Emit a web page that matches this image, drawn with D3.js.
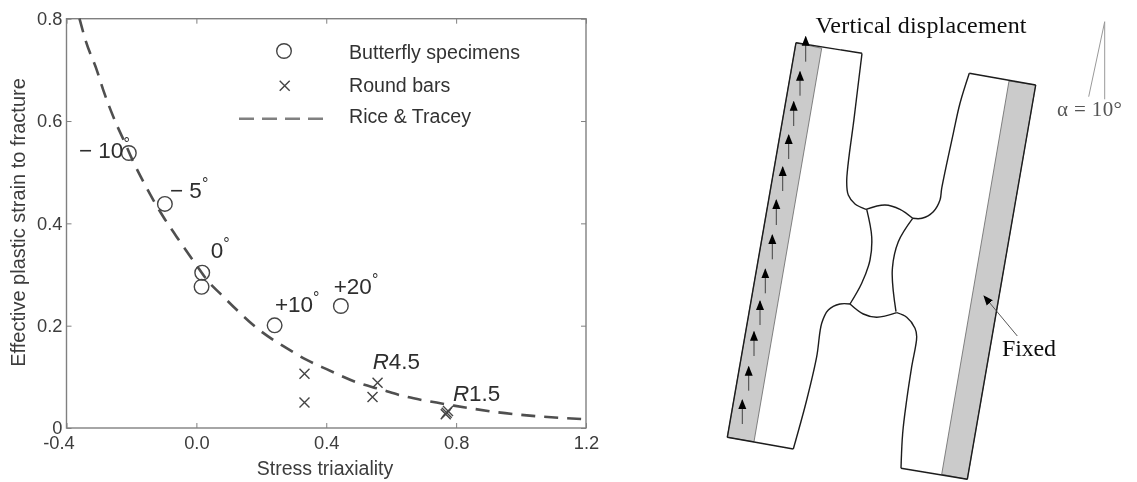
<!DOCTYPE html>
<html><head><meta charset="utf-8">
<script src="https://cdn.jsdelivr.net/npm/d3@7/dist/d3.min.js"></script>
<style>html,body{margin:0;padding:0;background:#fff}svg{display:block}
text{font-family:"Liberation Sans",Arial,sans-serif}
.serif{font-family:"Liberation Serif",serif}</style></head>
<body><svg id="c" width="1137" height="482"></svg>
<script>
// ---- chart data (stress triaxiality, effective plastic strain to fracture)
const butterflyX = [-0.208,-0.097,0.018,0.016,0.241,0.445];
const butterflyY = [0.5375,0.438,0.3035,0.276,0.2007,0.2385];
const roundX = [0.333,0.333,0.558,0.5425,0.771,0.768,0.775];
const roundY = [0.106,0.05,0.0885,0.0606,0.03,0.027,0.033];
const curveX = [-0.36,-0.34,-0.307,-0.287,-0.245,-0.224,-0.194,-0.163,-0.133,-0.102,-0.061,-0.004,0.037,0.073,0.124,0.191,0.278,0.34,0.401,0.504,0.565,0.637,0.709,0.791,0.925,1.068,1.2];
const curveY = [0.8,0.755,0.7,0.661,0.592,0.563,0.52,0.481,0.446,0.413,0.374,0.322,0.286,0.263,0.231,0.193,0.156,0.133,0.115,0.087,0.076,0.0625,0.053,0.044,0.031,0.022,0.017];
const xTicks = [-0.4,0,0.4,0.8,1.2];
const xTickLabels = ["-0.4","0.0","0.4","0.8","1.2"];
const yTicks = [0,0.2,0.4,0.6,0.8];
const yTickLabels = ["0","0.2","0.4","0.6","0.8"];
const legendLabels = ["Butterfly specimens","Round bars","Rice & Tracey"];
const noteText = ["\u2212 10","\u2212 5","0","+10","+20"];
const noteX = [-0.3616,-0.0813,0.044,0.242,0.423];
const noteY = [0.5278,0.4496,0.3323,0.2273,0.2619];
const radiusNotes = ["4.5","1.5"];
const radiusX = [0.543,0.79];
const radiusY = [0.1153,0.0534];

// ---- schematic data (specimen drawing units)
const gripLeft = [[96,42.7],[121.7,48.3],[54,441.7],[27.3,437.3]];
const gripRight = [[309,81],[335.7,85],[267.3,479.3],[241.7,474.3]];
const edges = [
 [[96,42.7],[27.3,437.3]],
 [[96,42.7],[162,53.3]],
 [[162,53.3],[154.3,116.7],[146.7,181.7],[148.3,195],[155,204],[166,209.3]],
 [[166,209.3],[185,205],[200,209.3],[212.7,218.3]],
 [[212.7,218.3],[222,218.3],[233.3,211.7],[240,200],[241.7,188.3],[253.3,133.3],[260,103.3],[269.3,73.3]],
 [[269.3,73.3],[335.7,85]],
 [[335.7,85],[267.3,479.3]],
 [[267.3,479.3],[201,468.3]],
 [[201,468.3],[202.7,433],[206.7,400],[211.7,366.7],[216.7,336.7],[215,328.3],[206.7,317.3],[196.7,312.7]],
 [[196.7,312.7],[176.7,317.3],[163.3,314],[150,304]],
 [[150,304],[140,304],[128.3,310],[121.7,323.3],[116.7,356.7],[106.7,400],[93.3,449]],
 [[93.3,449],[27.3,437.3]],
 [[166.7,209.3],[171.7,236.7],[170,260],[161.7,283.3],[150,304]],
 [[212.7,218.3],[198.3,241.7],[192.3,270],[196,311.7]]
];
const arrowX = [105.7,100,93.7,88.7,82.7,76.3,72.3,65.3,60,54,48.7,42.3];
const arrowTip = [36.7,71.7,101.7,135,167,200,235,269.3,301,331.7,366.7,400];
const arrowTail = [61.7,95.7,126,159,191,225,259.3,293.3,325,356,390.7,424];
const fixedArrow = [[317.3,336],[284,296]];
const angleLines = [[[404.7,21.7],[404.7,99.3]],[[404.7,21.7],[388.7,96.7]]];

const svg = d3.select("#c");
const defs = svg.append("defs");
defs.append("filter").attr("id","soft").attr("x","-5%").attr("y","-5%").attr("width","110%").attr("height","110%")
  .append("feGaussianBlur").attr("stdDeviation",0.35);
defs.append("marker").attr("id","tip").attr("viewBox","0 0 10 10").attr("refX",9).attr("refY",5)
  .attr("markerUnits","userSpaceOnUse").attr("markerWidth",10).attr("markerHeight",10).attr("orient","auto")
  .append("path").attr("d","M0,1 L10,5 L0,9 Z").attr("fill","#000");

const root = svg.append("g").attr("filter","url(#soft)");
const ink="#444", frame="#808080";
const x = d3.scaleLinear().domain([-0.4,1.2]).range([66.5,586]);
const y = d3.scaleLinear().domain([0,0.8]).range([428,18.7]);
const plot = root.append("g");

// frame and ticks
plot.append("rect").attr("x",66.5).attr("y",18.7).attr("width",519.5).attr("height",409.3)
  .attr("fill","none").attr("stroke",frame).attr("stroke-width",1.4);
function styleAxis(g){
  g.select(".domain").remove();
  g.selectAll("line").attr("stroke",frame).attr("stroke-width",1);
  g.selectAll("text").attr("fill","#3c3c3c").attr("font-size",18.3).attr("font-family","'Liberation Sans',Arial,sans-serif");
}
const fmtX=(d,i)=>xTickLabels[i], fmtY=(d,i)=>yTickLabels[i];
plot.append("g").attr("transform","translate(0,428)")
  .call(d3.axisBottom(x).tickValues(xTicks).tickSize(-5).tickPadding(8).tickFormat(fmtX)).call(styleAxis)
  .selectAll("text").attr("dx",(d,i)=>i==0?-8:0);
plot.append("g").attr("transform","translate(0,18.7)")
  .call(d3.axisTop(x).tickValues(xTicks).tickSize(-5).tickFormat("")).call(styleAxis);
plot.append("g").attr("transform","translate(66.5,0)")
  .call(d3.axisLeft(y).tickValues(yTicks).tickSize(-5).tickPadding(4).tickFormat(fmtY)).call(styleAxis);
plot.append("g").attr("transform","translate(586,0)")
  .call(d3.axisRight(y).tickValues(yTicks).tickSize(-5).tickFormat("")).call(styleAxis);

plot.append("text").attr("x",325).attr("y",475).attr("text-anchor","middle").attr("font-size",19.5).attr("fill","#3c3c3c").text("Stress triaxiality");
plot.append("text").attr("transform","translate(25,222.5) rotate(-90)").attr("text-anchor","middle").attr("font-size",20).attr("fill","#3c3c3c").text("Effective plastic strain to fracture");

// fitted curve
const pts = curveX.map((d,i)=>[d,curveY[i]]);
const line = d3.line().x(d=>x(d[0])).y(d=>y(d[1])).curve(d3.curveMonotoneX);
plot.append("path").attr("d",line(pts)).attr("fill","none").attr("stroke","#4f4f4f").attr("stroke-width",2.6).attr("stroke-dasharray","14,9");

// markers
plot.selectAll("circle.b").data(butterflyX).join("circle").attr("class","b")
  .attr("cx",d=>x(d)).attr("cy",(d,i)=>y(butterflyY[i])).attr("r",7.3).attr("fill","none").attr("stroke",ink).attr("stroke-width",1.4);
const crossPath = "M-5,-5L5,5M-5,5L5,-5";
plot.selectAll("path.r").data(roundX).join("path").attr("class","r").attr("d",crossPath)
  .attr("transform",(d,i)=>`translate(${x(d)},${y(roundY[i])})`).attr("fill","none").attr("stroke",ink).attr("stroke-width",1.4);

// legend
plot.append("circle").attr("cx",284).attr("cy",51).attr("r",7.3).attr("fill","none").attr("stroke",ink).attr("stroke-width",1.4);
plot.append("path").attr("d",crossPath).attr("transform","translate(284.7,85.7)").attr("fill","none").attr("stroke",ink).attr("stroke-width",1.4);
plot.append("line").attr("x1",239).attr("x2",323).attr("y1",118.7).attr("y2",118.7).attr("stroke","#808080").attr("stroke-width",2.6).attr("stroke-dasharray","15,8");
[59,92,122.7].forEach((b,i)=>plot.append("text").attr("x",349).attr("y",b).attr("font-size",19.6).attr("fill","#333").text(legendLabels[i]));

// annotations
noteText.forEach((t,i)=>{
  const el=plot.append("text").attr("x",x(noteX[i])).attr("y",y(noteY[i])).attr("font-size",22.5).attr("fill","#2e2e2e").text(t);
  el.append("tspan").attr("font-size",16).attr("dy",-9).text("\u00b0");
});
radiusNotes.forEach((t,i)=>{
  const el=plot.append("text").attr("x",x(radiusX[i])).attr("y",y(radiusY[i])).attr("font-size",22.4).attr("fill","#2e2e2e");
  el.append("tspan").attr("font-style","italic").text("R");
  el.append("tspan").text(t);
});

// ---- specimen schematic
const dx = d3.scaleLinear().domain([0,437]).range([700,1137]);
const dy = d3.scaleLinear().domain([0,482]).range([0,482]);
const dg = root.append("g");
const poly = d3.line().x(d=>dx(d[0])).y(d=>dy(d[1])).curve(d3.curveLinearClosed);
const open = d3.line().x(d=>dx(d[0])).y(d=>dy(d[1])).curve(d3.curveCatmullRom.alpha(0.5));
[gripLeft,gripRight].forEach(g=>dg.append("path").attr("d",poly(g)).attr("fill","#cbcbcb").attr("stroke","#666").attr("stroke-width",0.8));
edges.forEach(e=>dg.append("path").attr("d",open(e)).attr("fill","none").attr("stroke","#1c1c1c").attr("stroke-width",1.4));
arrowX.forEach((v,i)=>dg.append("line").attr("x1",dx(v)).attr("x2",dx(v)).attr("y1",dy(arrowTail[i])).attr("y2",dy(arrowTip[i]))
  .attr("stroke","#333").attr("stroke-width",0.9).attr("marker-end","url(#tip)"));
dg.append("line").attr("x1",dx(fixedArrow[0][0])).attr("y1",dy(fixedArrow[0][1])).attr("x2",dx(fixedArrow[1][0])).attr("y2",dy(fixedArrow[1][1]))
  .attr("stroke","#444").attr("stroke-width",0.9).attr("marker-end","url(#tip)");
angleLines.forEach(l=>dg.append("line").attr("x1",dx(l[0][0])).attr("y1",dy(l[0][1])).attr("x2",dx(l[1][0])).attr("y2",dy(l[1][1])).attr("stroke","#999").attr("stroke-width",1));
dg.append("text").attr("class","serif").attr("x",815.5).attr("y",33).attr("font-size",24).attr("textLength",211).attr("fill","#111").text("Vertical displacement");
dg.append("text").attr("class","serif").attr("x",1002).attr("y",356).attr("font-size",24).attr("textLength",54).attr("fill","#111").text("Fixed");
dg.append("text").attr("class","serif").attr("x",1057).attr("y",116).attr("font-size",21).attr("textLength",65).attr("fill","#555").text("\u03b1 = 10\u00b0");
</script></body></html>
